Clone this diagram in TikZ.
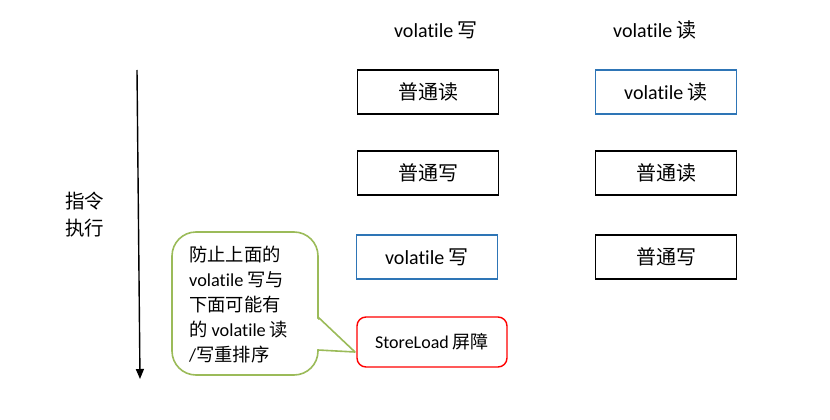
\documentclass[tikz,border=0pt]{standalone}
\usepackage{fontspec}
\setmainfont{Carlito}[Ligatures={NoCommon,NoRare,NoContextual}]
\newfontfamily\cjk{Noto Sans CJK SC}
\usetikzlibrary{arrows.meta}
\newcommand\zh[1]{{\cjk #1}}
\definecolor{boxblue}{HTML}{2E75B6}
\definecolor{notegreen}{HTML}{9BBB59}
\definecolor{barred}{HTML}{FF0000}
\tikzset{
  opbox/.style={draw=black, line width=1.6pt, minimum width=141pt, minimum height=44pt, inner sep=0pt,
    font=\fontsize{20}{24}\selectfont},
  volbox/.style={opbox, draw=boxblue},
  header/.style={font=\fontsize{20}{24}\selectfont, inner sep=0pt},
  notebox/.style={draw=notegreen, line width=1.6pt, rounded corners=24pt, minimum width=146pt, minimum height=143pt, inner sep=0pt},
  barrier/.style={draw=barred, line width=1.4pt, rounded corners=9pt, minimum width=150pt, minimum height=50pt, inner sep=0pt,
    font=\fontsize{18}{21}\selectfont},
}
\begin{document}
\begin{tikzpicture}[x=1pt,y=-1pt]
\useasboundingbox (0,0) rectangle (830,420);
% headers
\node[header] (h1) at (436,30) {volatile \zh{写}};
\node[header] (h2) at (655,30) {volatile \zh{读}};
% left column
\node[opbox] (a1) at (428,92) {\zh{普通读}};
\node[opbox] (a2) at (428,173) {\zh{普通写}};
\node[volbox] (a3) at (427,257) {volatile \zh{写}};
% right column
\node[volbox] (b1) at (666,92) {volatile \zh{读}};
\node[opbox] (b2) at (666,173) {\zh{普通读}};
\node[opbox] (b3) at (666,257) {\zh{普通写}};
% barrier
\node[barrier] (sl) at (432,342) {StoreLoad \zh{屏障}};
% arrow
\coordinate (top) at (137,70);
\coordinate (bot) at (140,379);
\draw[line width=1.4pt, -{Triangle[length=10pt,width=8pt]}] (top) -- (bot);
\node[font=\fontsize{19.5}{27}\selectfont\cjk, align=left, anchor=west, inner sep=0pt] (lbl) at (65,215) {指令\\执行};
% callout
\node[notebox] (note) at (245,303.5) {};
\coordinate (tip) at (355,352);
\fill[white] (316.4,318) -- (tip) -- (316.4,349) -- cycle;
\draw[notegreen, line width=1.6pt, line join=round] (318,317) -- (tip) -- (318,350);
\node[font=\fontsize{18.3}{25}\selectfont, align=left, anchor=west, inner sep=0pt] (notetext) at (189,305)
  {\zh{防止上面的}\\volatile \zh{写与}\\\zh{下面可能有}\\\zh{的} volatile \zh{读}\\/\zh{写重排序}};
\end{tikzpicture}
\end{document}
